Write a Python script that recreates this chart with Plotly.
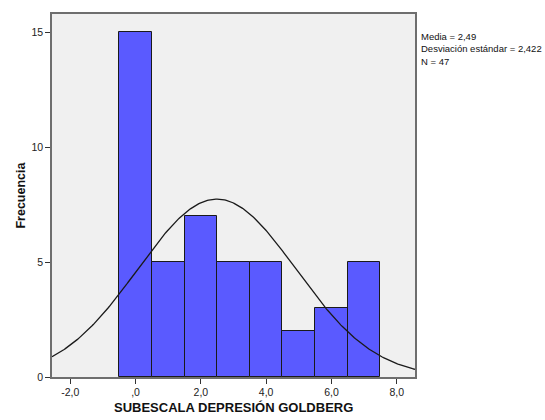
import numpy as np
import plotly.graph_objects as go

# Histogram bins (centres, width 1) and counts
bin_centers = [0, 1, 2, 3, 4, 5, 6, 7]
counts = [15, 5, 7, 5, 5, 2, 3, 5]

# Summary statistics shown beside the chart
mean_val = 2.49
sd_val = 2.422
n_val = 47
bin_width = 1.0

x_ticks = [-2, 0, 2, 4, 6, 8]
x_tick_labels = ["-2,0", ",0", "2,0", "4,0", "6,0", "8,0"]
y_ticks = [0, 5, 10, 15]

x_range = [-2.56, 8.56]
y_range = [0, 15.8]

# Normal curve scaled to the histogram
xs = np.linspace(x_range[0], x_range[1], 300)
ys = n_val * bin_width / (sd_val * np.sqrt(2 * np.pi)) * np.exp(-0.5 * ((xs - mean_val) / sd_val) ** 2)

fig = go.Figure()
fig.add_trace(go.Bar(
    x=bin_centers, y=counts, width=bin_width,
    marker=dict(color="#5a5aff", line=dict(color="#1a1a1a", width=1)),
    hoverinfo="x+y",
))
fig.add_trace(go.Scatter(
    x=xs, y=ys, mode="lines",
    line=dict(color="#1a1a1a", width=1.3),
    hoverinfo="skip",
))

axis_common = dict(
    showgrid=False, zeroline=False, automargin=False,
    showline=True, linecolor="#6e6e6e", linewidth=1.5, mirror=True,
    ticks="outside", ticklen=5, tickcolor="#333333", tickwidth=1,
    tickfont=dict(family="Arial, Liberation Sans", size=10.5, color="#222222"),
)

title_font = dict(family="Arial, Liberation Sans", size=13, color="#111111")

fig.update_layout(
    width=545, height=420,
    margin=dict(l=52, r=130, t=14, b=43),
    paper_bgcolor="white", plot_bgcolor="#f0f0f0",
    showlegend=False, bargap=0,
    xaxis=dict(range=x_range, tickvals=x_ticks, ticktext=x_tick_labels, **axis_common),
    yaxis=dict(range=y_range, tickvals=y_ticks, **axis_common),
    annotations=[
        # axis titles
        dict(xref="paper", yref="paper", x=0.5, y=-0.085,
             xanchor="center", yanchor="middle", showarrow=False,
             text="<b>SUBESCALA DEPRESIÓN GOLDBERG</b>", font=title_font),
        dict(xref="paper", yref="paper", x=-0.088, y=0.5, textangle=-90,
             xanchor="center", yanchor="middle", showarrow=False,
             text="<b>Frecuencia</b>", font=dict(title_font, size=12.5)),
        # summary statistics
        dict(xref="paper", yref="paper", x=1.012, y=0.96,
             xanchor="left", yanchor="top", align="left", showarrow=False,
             text=(f"Media = {mean_val:.2f}".replace(".", ",")
                   + f"<br>Desviación estándar = {sd_val:.3f}".replace(".", ",")
                   + f"<br>N = {n_val}"),
             font=dict(family="Arial, Liberation Sans", size=9.5, color="#111111")),
    ],
)

fig.write_html("out.html")
